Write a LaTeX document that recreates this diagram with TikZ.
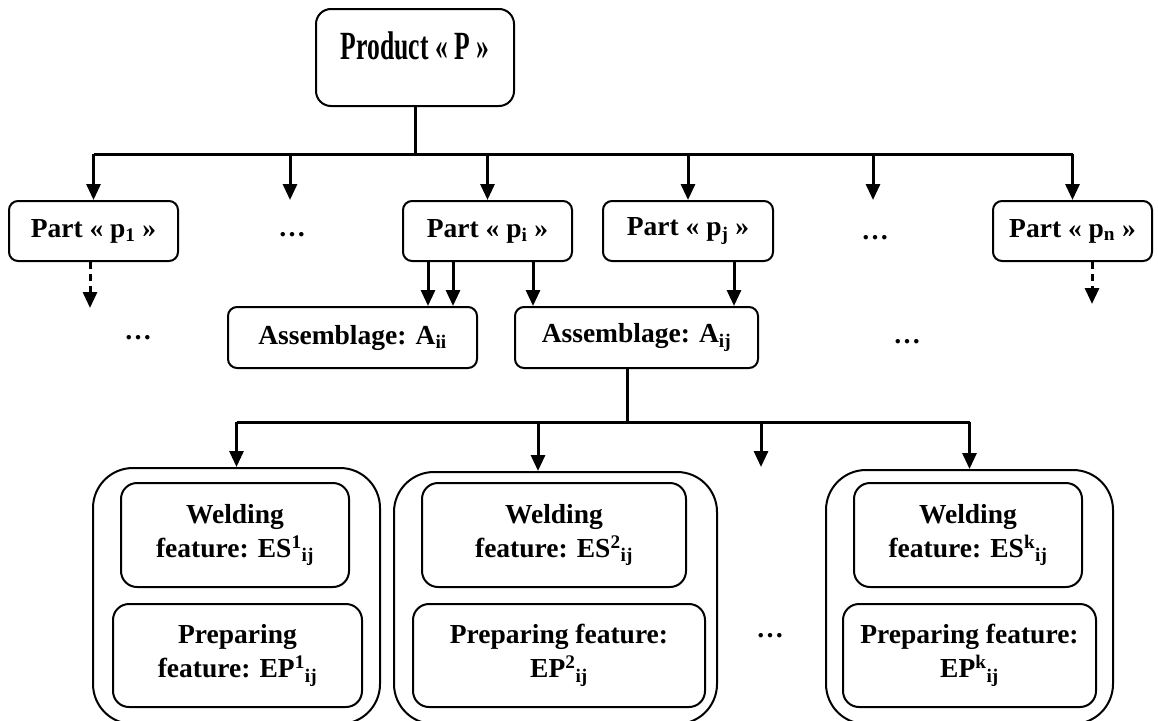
\documentclass[tikz,border=0pt]{standalone}
\usepackage{fontspec}
\usepackage{graphicx}
\setmainfont{Liberation Serif}
\usetikzlibrary{arrows.meta}

\begin{document}
\begin{tikzpicture}[x=1pt, y=-1pt,
	box/.style={draw, line width=2pt, rounded corners=9pt, inner sep=0pt, align=center, minimum height=60pt, font=\fontsize{27.5}{34}\selectfont\bfseries},
	feat/.style={box, rounded corners=16pt, minimum height=104pt},
	group/.style={draw, line width=2pt, rounded corners=40pt, inner sep=0pt},
	dots/.style={inner sep=0pt, font=\fontsize{27.5}{34}\selectfont\bfseries},
	bus/.style={line width=3pt},
	link/.style={line width=3pt, -{Triangle[width=14pt,length=16pt]}},
	dlink/.style={link, dash pattern=on 7pt off 5pt}]
	\useasboundingbox (0,0) rectangle (1158,720);
	% product
	\node[box, rounded corners=15pt, minimum width=198pt, text height=50pt, text depth=47pt, font=\fontsize{40}{45}\selectfont\bfseries] (P) at (415,57.5) {\scalebox{0.64}[1]{Product « P »}};
	% parts
	\node[box, minimum width=169pt] (p1) at (93.5,231) {Part « p\textsubscript{1} »};
	\node[box, minimum width=169pt] (pi) at (487.5,231) {Part « p\textsubscript{i} »};
	\node[box, minimum width=170pt] (pj) at (688,231) {Part « p\textsubscript{j} »};
	\node[box, minimum width=159pt] (pn) at (1072.5,231) {Part « p\textsubscript{n} »};
	\node[dots] (d1) at (292,235) {…};
	\node[dots] (d2) at (875,238) {…};
	\coordinate (t1) at (290,200);
	\coordinate (t2) at (873,200);
	\coordinate (b0) at (415,154);
	\draw[bus] (P) -- (b0);
	\draw[bus] (p1.north |- b0) -- (pn.north |- b0);
	\foreach \t in {p1.north, t1, pi.north, pj.north, t2, pn.north}
		\draw[link] (\t |- b0) -- (\t);
	% assemblages
	\node[box, minimum width=249pt, minimum height=61pt] (Aii) at (352.5,337.5) {Assemblage: A\textsubscript{ii}};
	\node[box, minimum width=243pt, minimum height=61pt] (Aij) at (636.5,337.5) {Assemblage: A\textsubscript{ij}};
	\node[dots] (d3) at (138,338) {…};
	\node[dots] (d4) at (907,342) {…};
	\draw[link] ([xshift=-59.5pt]pi.south) -- ([xshift=-59.5pt]pi.south |- Aii.north);
	\draw[link] ([xshift=-34.5pt]pi.south) -- ([xshift=-34.5pt]pi.south |- Aii.north);
	\draw[link] ([xshift=45.5pt]pi.south) -- ([xshift=45.5pt]pi.south |- Aij.north);
	\draw[link] ([xshift=46pt]pj.south) -- ([xshift=46pt]pj.south |- Aij.north);
	\draw[dlink] ([xshift=-3.5pt]p1.south) -- ++(0,46);
	\draw[dlink] ([xshift=19.5pt]pn.south) -- ++(0,42);
	% features
	\node[group, minimum width=287pt, minimum height=256pt] (g1) at (236.5,596) {};
	\node[group, minimum width=323pt, minimum height=252pt] (g2) at (555.5,598) {};
	\node[group, minimum width=287pt, minimum height=254pt] (gk) at (969.5,597) {};
	\node[feat, minimum width=228pt] (w1) at (235,535) {Welding\\feature: ES\textsuperscript{1}\textsubscript{ij}};
	\node[feat, minimum width=249pt, minimum height=103pt] (e1) at (237.5,655.5) {Preparing\\feature: EP\textsuperscript{1}\textsubscript{ij}};
	\node[feat, minimum width=264pt] (w2) at (554,535) {Welding\\feature: ES\textsuperscript{2}\textsubscript{ij}};
	\node[feat, minimum width=292pt, minimum height=103pt] (e2) at (559,655.5) {Preparing feature:\\EP\textsuperscript{2}\textsubscript{ij}};
	\node[feat, minimum width=228pt] (wk) at (968,535) {Welding\\feature: ES\textsuperscript{k}\textsubscript{ij}};
	\node[feat, minimum width=253pt, minimum height=103pt] (ek) at (969.5,655.5) {Preparing feature:\\EP\textsuperscript{k}\textsubscript{ij}};
	\node[dots] (d5) at (770,636) {…};
	\coordinate (b1) at (627,422);
	\coordinate (t3) at (761,467);
	\draw[bus] (Aij.south -| b1) -- (b1);
	\draw[bus] (g1.north |- b1) -- (gk.north |- b1);
	\draw[link] (g1.north |- b1) -- (g1.north);
	\draw[link] ([xshift=-17.5pt]g2.north |- b1) -- ([xshift=-17.5pt]g2.north);
	\draw[link] (t3 |- b1) -- (t3);
	\draw[link] (gk.north |- b1) -- (gk.north);
\end{tikzpicture}
\end{document}
